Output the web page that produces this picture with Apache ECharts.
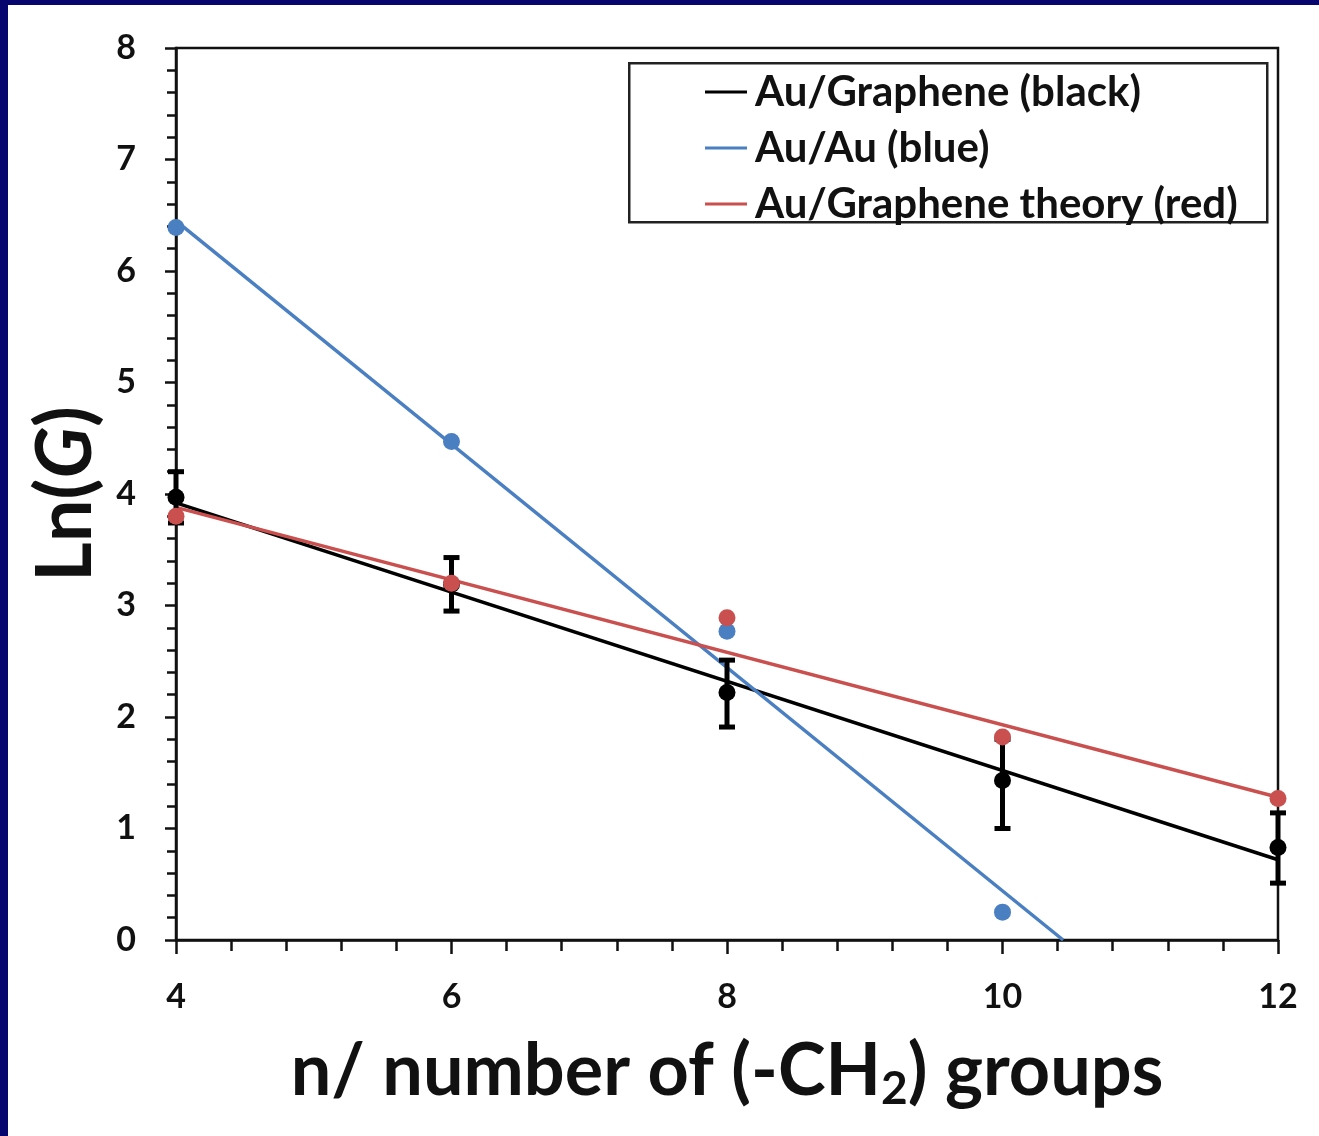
<!DOCTYPE html>
<html>
<head>
<meta charset="utf-8">
<script src="https://cdn.jsdelivr.net/npm/echarts@6/dist/echarts.min.js"></script>
<style>
  html, body { margin: 0; padding: 0; background: #fff; }
  #chart { width: 1319px; height: 1136px; }
</style>
</head>
<body>
<div id="chart"></div>
<script>
// n = number of CH2 groups
const nValues = [4, 6, 8, 10, 12]
// Au/Graphene measured ln(G) with error bars
const grapheneG = [3.97, 3.19, 2.22, 1.43, 0.83]
const grapheneLow = [3.74, 2.95, 1.91, 1.00, 0.51]
const grapheneHigh = [4.20, 3.43, 2.51, 1.80, 1.14]
// Au/Au measured
const auAuN = [4, 6, 8, 10]
const auAuG = [6.39, 4.47, 2.77, 0.25]
// Au/Graphene theory
const theoryG = [3.80, 3.20, 2.89, 1.82, 1.27]
// linear fit end points [n, lnG]
const grapheneFit = [[4, 3.92], [12, 0.72]]
const auAuFit = [[4, 6.45], [10.44, 0]]
const theoryFit = [[4, 3.88], [12, 1.28]]

const xTicks = [4, 6, 8, 10, 12]
const yTicks = [0, 1, 2, 3, 4, 5, 6, 7, 8]

const BLACK = '#000000'
const BLUE = '#4a7fc1'
const RED = '#c9504e'
const FONT = 'Lato'

const chart = echarts.init(document.getElementById('chart'))

function errorBar(params, api) {
  const x = api.value(0)
  const lo = api.coord([x, api.value(1)])
  const hi = api.coord([x, api.value(2)])
  const cap = 8
  const st = { stroke: BLACK, lineWidth: 5 }
  return {
    type: 'group',
    children: [
      { type: 'line', shape: { x1: lo[0], y1: lo[1], x2: hi[0], y2: hi[1] }, style: st },
      { type: 'line', shape: { x1: lo[0] - cap, y1: lo[1], x2: lo[0] + cap, y2: lo[1] }, style: st },
      { type: 'line', shape: { x1: hi[0] - cap, y1: hi[1], x2: hi[0] + cap, y2: hi[1] }, style: st }
    ]
  }
}

const axisText = { color: '#111', fontFamily: FONT, fontWeight: 'bold', fontSize: 34 }

chart.setOption({
  backgroundColor: '#fff',
  animation: false,
  graphic: [
    { type: 'rect', left: 0, top: 0, shape: { width: 1319, height: 5 }, style: { fill: '#06066e' }, z: 100 },
    { type: 'rect', left: 0, top: 0, shape: { width: 8, height: 1136 }, style: { fill: '#06066e' }, z: 100 },
    { type: 'rect', left: 628, top: 62, shape: { width: 638, height: 159 }, style: { fill: '#fff', stroke: '#222', lineWidth: 2.5 }, z: 5 }
  ],
  grid: { left: 176, top: 48, width: 1102, height: 892, show: true, borderColor: '#111', borderWidth: 2.5, backgroundColor: 'transparent' },
  legend: {
    data: ['Au/Graphene (black)', 'Au/Au (blue)', 'Au/Graphene theory (red)'],
    orient: 'vertical', left: 700, top: 66, z: 10,
    icon: 'rect', itemWidth: 42, itemHeight: 3, itemGap: 14,
    textStyle: { color: '#111', fontFamily: FONT, fontWeight: 'bold', fontSize: 42, lineHeight: 41, padding: [0, 0, 0, 3] }
  },
  xAxis: {
    type: 'value', min: 4, max: 12, interval: 2,
    name: 'n/ number of (-CH{sub|2}) groups',
    nameLocation: 'middle', nameGap: 92,
    nameTextStyle: {
      color: '#111', fontFamily: FONT, fontWeight: 'bold', fontSize: 72,
      rich: { sub: { fontFamily: FONT, fontWeight: 'bold', fontSize: 46, padding: [34, 0, 0, 0], color: '#111' } }
    },
    axisLine: { lineStyle: { color: '#111', width: 2.5 } },
    axisTick: { show: true, inside: false, length: 14, lineStyle: { color: '#111', width: 2.5 } },
    minorTick: { show: true, splitNumber: 5, length: 11, lineStyle: { color: '#111', width: 2.5 } },
    axisLabel: Object.assign({ margin: 40, formatter: v => xTicks.includes(v) ? String(v) : '' }, axisText),
    splitLine: { show: false }
  },
  yAxis: {
    type: 'value', min: 0, max: 8, interval: 1,
    name: 'Ln({i|G})',
    nameLocation: 'middle', nameGap: 72, nameRotate: 90,
    nameTextStyle: {
      color: '#111', fontFamily: FONT, fontWeight: 'bold', fontSize: 76,
      rich: { i: { fontFamily: FONT, fontWeight: 'bold', fontStyle: 'italic', fontSize: 76, color: '#111' } }
    },
    axisLine: { lineStyle: { color: '#111', width: 2.5 } },
    axisTick: { show: true, inside: false, length: 11, lineStyle: { color: '#111', width: 2.5 } },
    minorTick: { show: true, splitNumber: 5, length: 9, lineStyle: { color: '#111', width: 2.5 } },
    axisLabel: Object.assign({ margin: 40, formatter: v => yTicks.includes(v) ? String(v) : '' }, axisText),
    splitLine: { show: false }
  },
  series: [
    {
      name: 'Au/Graphene (black)', type: 'line', data: grapheneFit, showSymbol: false,
      lineStyle: { color: BLACK, width: 3.5 }, itemStyle: { color: BLACK }, z: 2
    },
    {
      name: 'Au/Au (blue)', type: 'line', data: auAuFit, showSymbol: false,
      lineStyle: { color: BLUE, width: 3.5 }, itemStyle: { color: BLUE }, z: 2
    },
    {
      name: 'Au/Graphene theory (red)', type: 'line', data: theoryFit, showSymbol: false,
      lineStyle: { color: RED, width: 3.5 }, itemStyle: { color: RED }, z: 2
    },
    {
      type: 'custom', renderItem: errorBar, z: 3,
      data: nValues.map((n, i) => [n, grapheneLow[i], grapheneHigh[i]])
    },
    {
      type: 'scatter', symbolSize: 17, itemStyle: { color: BLACK, opacity: 1 }, z: 4,
      data: nValues.map((n, i) => [n, grapheneG[i]])
    },
    {
      type: 'scatter', symbolSize: 17, itemStyle: { color: BLUE, opacity: 1 }, z: 5,
      data: auAuN.map((n, i) => [n, auAuG[i]])
    },
    {
      type: 'scatter', symbolSize: 17, itemStyle: { color: RED, opacity: 1 }, z: 6,
      data: nValues.map((n, i) => [n, theoryG[i]])
    }
  ]
})
</script>
</body>
</html>
